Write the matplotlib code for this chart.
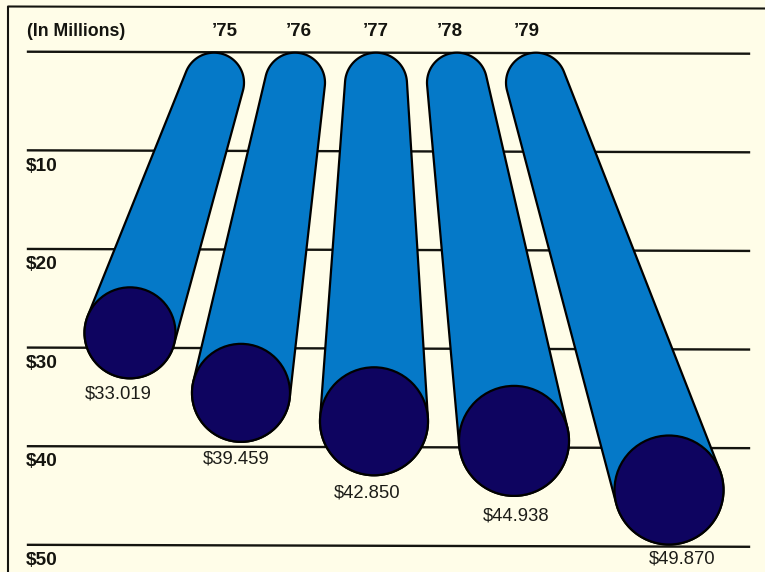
import numpy as np
import matplotlib.pyplot as plt
from matplotlib.patches import Ellipse, Polygon

plt.rcParams['font.family'] = ['Liberation Sans', 'DejaVu Sans']

years = ["\u201975", "\u201976", "\u201977", "\u201978", "\u201979"]
values = [33.019, 39.459, 42.850, 44.938, 49.870]
value_labels = ["$33.019", "$39.459", "$42.850", "$44.938", "$49.870"]
ticks = [0, 10, 20, 30, 40, 50]
tick_labels = ["$10", "$20", "$30", "$40", "$50"]

# x positions and radii of the tubes, in pixels
top_x = [214, 295, 376, 457, 536]
top_r = [30, 30, 31, 30, 30]
end_x = [130, 241, 374, 514, 669]
end_r = [45.5, 49, 54, 55, 54.5]

label_x = [118, 236, 367, 516, 682]
label_gap = [1.6, 1.7, 1.8, 2.0, 1.5]
year_x = [225, 299, 376, 450, 527]

BG = '#fffde8'
TUBE = '#0579c8'
NAVY = '#0e0460'
INK = '#14140f'

# dollars to pixels on the vertical axis
y0 = 52.7
scale = 9.862

fig = plt.figure(figsize=(7.65, 5.72), dpi=100, facecolor=BG)
ax = fig.add_axes([0, 0, 1, 1])
ax.set_xlim(0, 765)
ax.set_ylim((572 - y0) / scale, -y0 / scale)
ax.axis('off')


def tube_outline(x1, y1, r1, x2, y2, r2):
    # capsule with a different radius at each end, in pixel space
    dx, dy = x2 - x1, y2 - y1
    d = np.hypot(dx, dy)
    base = np.arctan2(dy, dx)
    off = np.arccos((r1 - r2) / d)
    a1 = np.linspace(base + off, base + 2 * np.pi - off, 60)
    a2 = np.linspace(base - off, base + off, 60)
    xs = np.r_[x1 + r1 * np.cos(a1), x2 + r2 * np.cos(a2)]
    ys = np.r_[y1 + r1 * np.sin(a1), y2 + r2 * np.sin(a2)]
    return np.c_[xs, ys / scale]


# frame along the top and left
ax.plot([8, 8, 765], [(572 - y0) / scale, (6.5 - y0) / scale, (8.5 - y0) / scale],
        color=INK, lw=1.5, zorder=1)

for t in ticks:
    ax.plot([28, 749], [t - 0.1, t + 0.1], color=INK, lw=1.7, zorder=1)

for i in range(len(values)):
    y_top = top_r[i]
    y_end = values[i] * scale - end_r[i]
    ax.add_patch(Polygon(tube_outline(top_x[i], y_top, top_r[i], end_x[i], y_end, end_r[i]),
                         closed=True, fc=TUBE, ec='black', lw=1.6, zorder=2))
    ax.add_patch(Ellipse((end_x[i], y_end / scale), 2 * end_r[i], 2 * end_r[i] / scale,
                         fc=NAVY, ec='black', lw=1.6, zorder=3))
    ax.text(label_x[i], values[i] + label_gap[i], value_labels[i], fontsize=13.3,
            ha='center', va='center', color='#1c1c18', zorder=4)
    ax.text(year_x[i], -2.2, years[i], fontsize=13.5, fontweight='bold',
            ha='center', va='center', color=INK)

ax.text(27, -2.2, "(In Millions)", fontsize=12.8, fontweight='bold', ha='left', va='center', color=INK)
for t, lab in zip(ticks[1:], tick_labels):
    ax.text(26, t + 1.5, lab, fontsize=13.8, fontweight='bold', ha='left', va='center', color=INK)

fig.savefig('out.png', dpi=100, facecolor=BG)
